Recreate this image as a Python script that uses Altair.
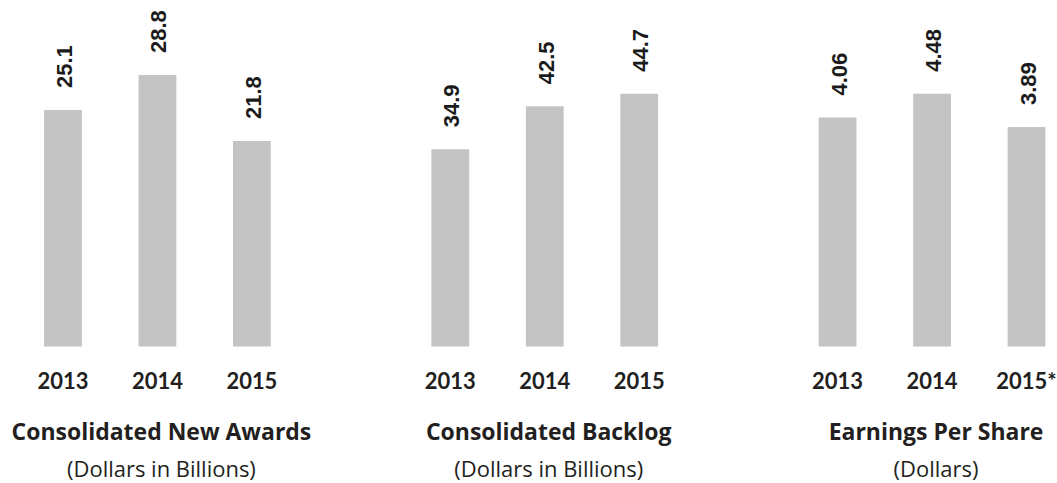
import altair as alt
import pandas as pd

# ---- data ----
years = ["2013", "2014", "2015"]
eps_years = ["2013", "2014", "2015*"]
new_awards = [25.1, 28.8, 21.8]
backlog = [34.9, 42.5, 44.7]
eps = [4.06, 4.48, 3.89]
awards_labels = ["25.1", "28.8", "21.8"]
backlog_labels = ["34.9", "42.5", "44.7"]
eps_labels = ["4.06", "4.48", "3.89"]
titles = ["Consolidated New Awards", "Consolidated Backlog", "Earnings Per Share"]
subtitles = ["(Dollars in Billions)", "(Dollars in Billions)", "(Dollars)"]
y_max = [36.75, 61.27, 6.14]

# ---- style ----
W = 250
H = 346.5
STEP = 94.5
PAD_INNER = 0.6
PAD_OUTER = (W / STEP - (3 - PAD_INNER)) / 2
BAR_COLOR = "#c4c4c4"
TEXT_COLOR = "#231f20"
TITLE_FONT = "Open Sans"


def panel(cats, vals, labels, title, subtitle, ymax):
    df = pd.DataFrame({"year": cats, "value": vals, "label": labels})
    base = alt.Chart(df).encode(
        x=alt.X(
            "year:N",
            sort=cats,
            scale=alt.Scale(paddingInner=PAD_INNER, paddingOuter=PAD_OUTER),
            axis=alt.Axis(
                title=None, domain=False, ticks=False, tickSize=0, grid=False,
                labelAngle=0, labelPadding=25, labelFont="Lato",
                labelFontSize=22, labelFontWeight="bold", labelColor=TEXT_COLOR,
            ),
        ),
        y=alt.Y("value:Q", scale=alt.Scale(domain=[0, ymax], nice=False, zero=True), axis=None),
    )
    bars = base.mark_bar(color=BAR_COLOR)
    text = base.mark_text(
        angle=270, align="left", baseline="middle", dx=22, dy=2,
        font="Liberation Sans", fontSize=22, fontWeight="bold", color="#1b1b1b",
    ).encode(text="label:N")
    return alt.layer(bars, text).properties(
        width=W,
        height=H,
        title=alt.TitleParams(
            text=title, subtitle=subtitle, orient="bottom", anchor="middle", dx=4,
            font=TITLE_FONT, fontSize=23, fontWeight="bold", color=TEXT_COLOR,
            subtitleFont=TITLE_FONT, subtitleFontSize=22, subtitleColor=TEXT_COLOR,
            subtitleFontWeight="normal", offset=30, subtitlePadding=15,
        ),
    )


p1 = panel(years, new_awards, awards_labels, titles[0], subtitles[0], y_max[0])
p2 = panel(years, backlog, backlog_labels, titles[1], subtitles[1], y_max[1])
p3 = panel(eps_years, eps, eps_labels, titles[2], subtitles[2], y_max[2])

chart = alt.hconcat(p1, p2, p3, spacing=387.5 - W, bounds="flush").properties(
    padding={"left": 10.5, "top": 0, "right": 0, "bottom": 0},
    background="white",
).configure_view(stroke=None)

chart.save("out.html", embed_options={"renderer": "svg", "actions": False})
